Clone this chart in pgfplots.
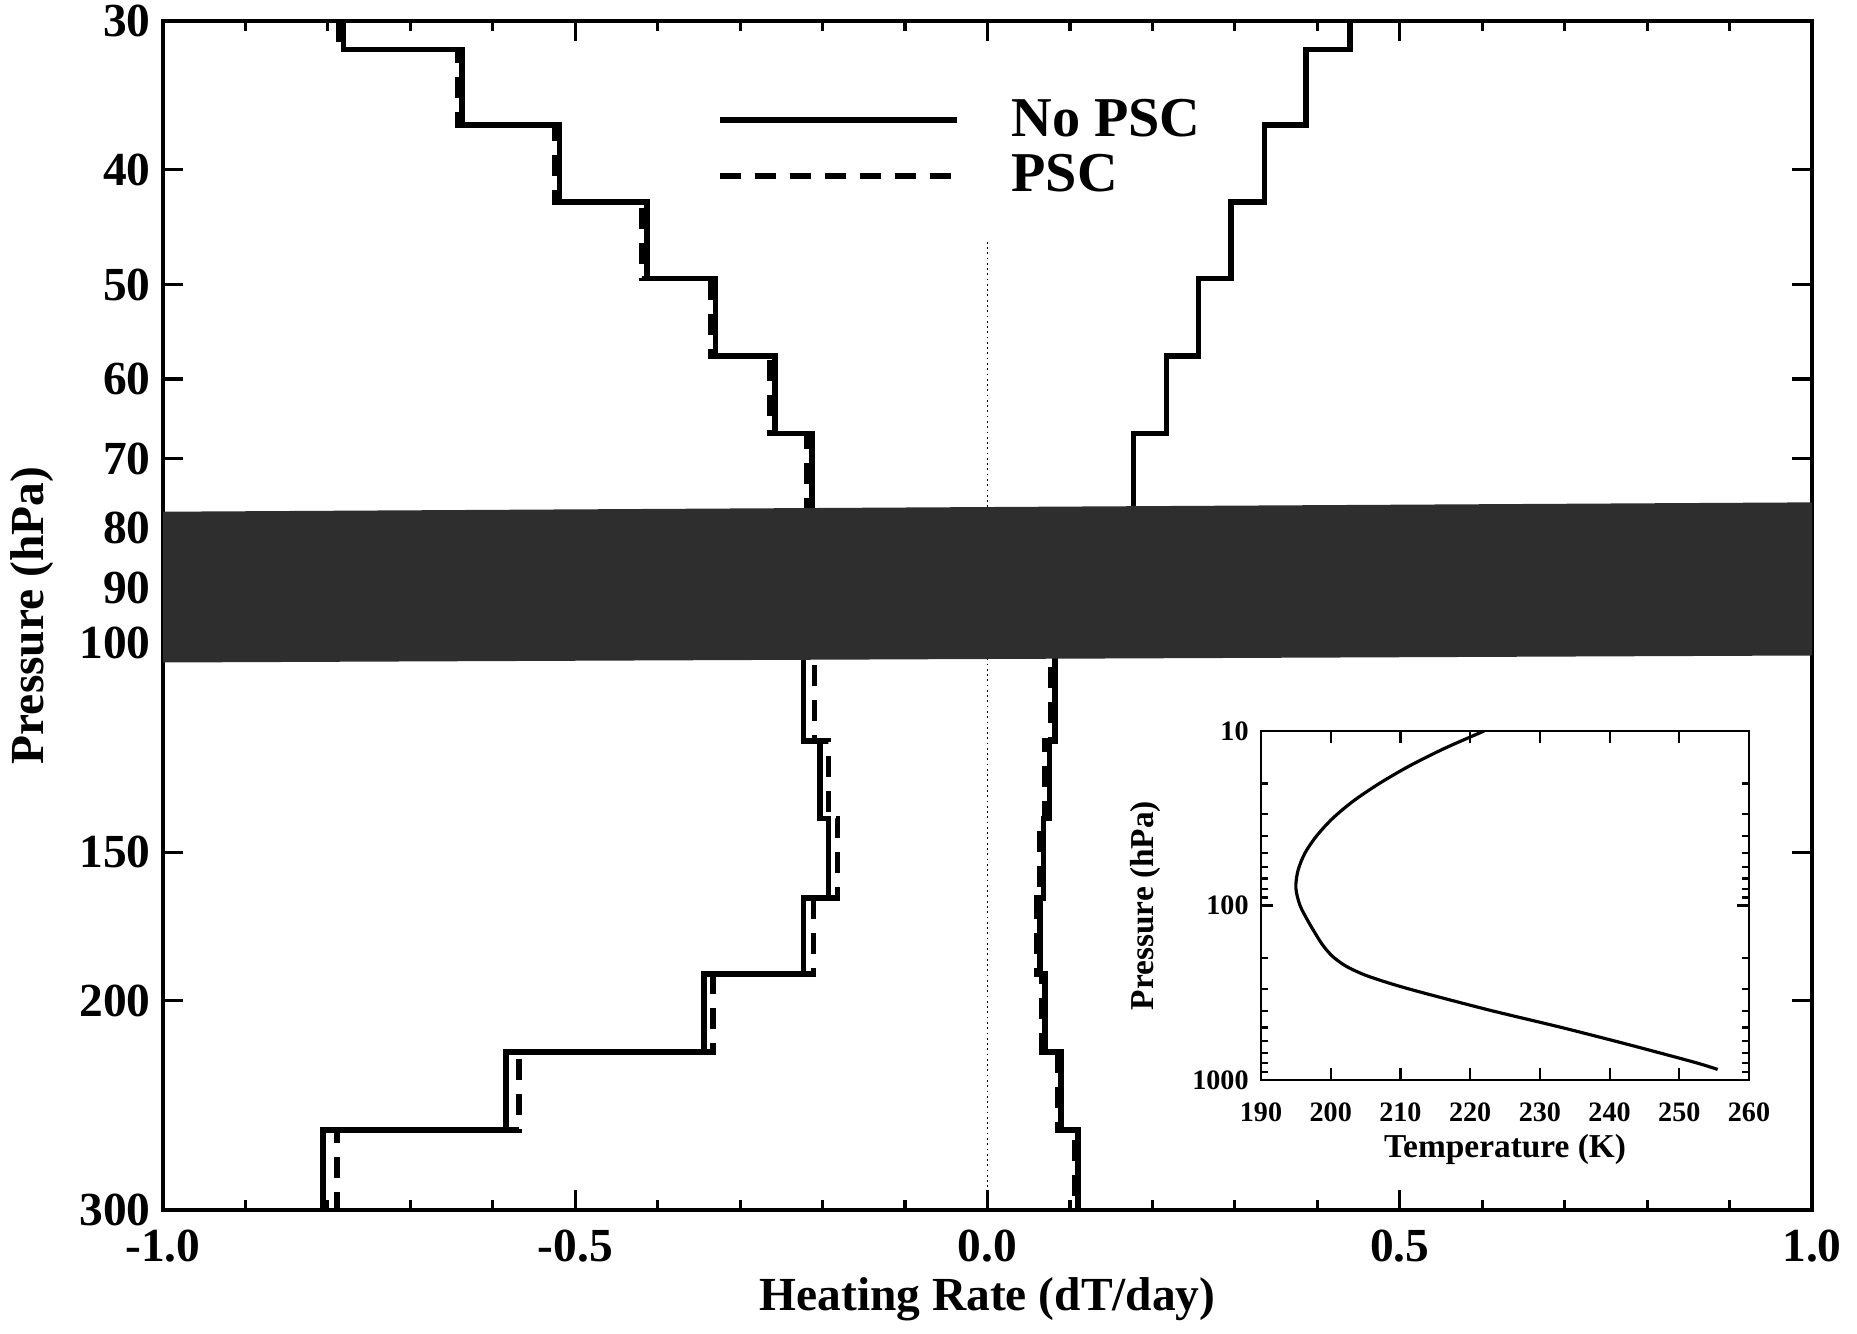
\documentclass[border=0pt]{standalone}
\usepackage{pgfplots}
\pgfplotsset{compat=1.18}
\usepackage{fontspec}
\setmainfont{Liberation Serif}
\begin{document}
\begin{tikzpicture}
\useasboundingbox (-16.3mm,-12.3mm) rectangle (169.4mm,121.0mm);
\begin{axis}[
  at={(0,0)}, anchor=south west,
  scale only axis, width=164.9mm, height=118.9mm,
  xmin=-1, xmax=1, ymin=30, ymax=300,
  ymode=log, y dir=reverse,
  xtick={-1,-0.5,0,0.5,1},
  xticklabels={-1.0,-0.5,0.0,0.5,1.0},
  minor x tick num=4,
  ytick={30,40,50,60,70,80,90,100,150,200,300},
  yticklabels={30,40,50,60,70,80,90,100,150,200,300},
  minor ytick={},
  tick align=inside,
  major tick length=2mm, minor tick length=1mm,
  axis line style={line width=1.2pt},
  tick style={line width=0.9pt, black},
  ticklabel style={font=\fontsize{13.5}{16}\selectfont\bfseries},
  xticklabel style={yshift=-0.7mm},
  xlabel={Heating Rate (dT/day)},
  ylabel={Pressure (hPa)},
  label style={font=\fontsize{13.5}{16}\selectfont\bfseries},
  xlabel style={at={(axis description cs:0.5,-0.0749)}, anchor=center},
  ylabel style={at={(axis description cs:-0.0794,0.5)}, anchor=center},
  legend style={draw=none, fill=none, inner sep=0pt,
    at={(axis description cs:0.3354,0.935)}, anchor=north west,
    font=\fontsize{16}{19}\selectfont\bfseries,
    nodes={inner sep=0pt},
    row sep=3.7pt,
    /tikz/every odd column/.append style={column sep=5.2mm}},
  legend cell align=left,
  legend image code/.code={\draw[#1] (0mm,0mm) -- (23.7mm,0mm);},
]
\addlegendimage{line width=1.6pt}
\addlegendentry{No PSC}
\addlegendimage{line width=1.6pt, dash pattern=on 2.1mm off 1.4mm}
\addlegendentry{PSC}

% zero line
\addplot[densely dotted, line width=0.5pt, forget plot] coordinates {(0,46) (0,300)};

% left curve, PSC (dashed)
\addplot[line width=1.6pt, dash pattern=on 2.1mm off 1.4mm, forget plot] coordinates {
(-0.787,30) (-0.787,31.7) (-0.643,31.7) (-0.643,36.7) (-0.525,36.7) (-0.525,42.6)
(-0.419,42.6) (-0.419,49.4) (-0.336,49.4) (-0.336,57.4) (-0.264,57.4) (-0.264,66.7)
(-0.219,66.7) (-0.219,77.4) (-0.215,77.4) (-0.215,89.8) (-0.210,89.8) (-0.210,104)
(-0.210,104) (-0.210,121) (-0.193,121) (-0.193,140.5) (-0.182,140.5) (-0.182,164)
(-0.211,164) (-0.211,190) (-0.333,190) (-0.333,221) (-0.568,221) (-0.568,257)
(-0.789,257) (-0.789,300)};
% left curve, No PSC (solid)
\addplot[line width=1.6pt, forget plot] coordinates {
(-0.781,30) (-0.781,31.7) (-0.637,31.7) (-0.637,36.7) (-0.519,36.7) (-0.519,42.6)
(-0.413,42.6) (-0.413,49.4) (-0.330,49.4) (-0.330,57.4) (-0.258,57.4) (-0.258,66.7)
(-0.213,66.7) (-0.213,77.4) (-0.218,77.4) (-0.218,89.8) (-0.223,89.8) (-0.223,104)
(-0.223,104) (-0.223,121) (-0.203,121) (-0.203,140.5) (-0.193,140.5) (-0.193,164)
(-0.223,164) (-0.223,190) (-0.344,190) (-0.344,221) (-0.584,221) (-0.584,257)
(-0.806,257) (-0.806,300)};
% right curve, PSC (dashed)
\addplot[line width=1.6pt, dash pattern=on 2.1mm off 1.4mm, forget plot] coordinates {
(0.440,30) (0.440,31.7) (0.386,31.7) (0.386,36.7) (0.336,36.7) (0.336,42.6)
(0.295,42.6) (0.295,49.4) (0.256,49.4) (0.256,57.4) (0.217,57.4) (0.217,66.7)
(0.177,66.7) (0.177,77.4) (0.120,77.4) (0.120,89.8) (0.077,89.8) (0.077,104)
(0.077,104) (0.077,121) (0.070,121) (0.070,140.5) (0.064,140.5) (0.064,164)
(0.060,164) (0.060,190) (0.066,190) (0.066,221) (0.085,221) (0.085,257)
(0.106,257) (0.106,300)};
% right curve, No PSC (solid)
\addplot[line width=1.6pt, forget plot] coordinates {
(0.440,30) (0.440,31.7) (0.386,31.7) (0.386,36.7) (0.336,36.7) (0.336,42.6)
(0.295,42.6) (0.295,49.4) (0.256,49.4) (0.256,57.4) (0.217,57.4) (0.217,66.7)
(0.177,66.7) (0.177,77.4) (0.120,77.4) (0.120,89.8) (0.082,89.8) (0.082,104)
(0.082,104) (0.082,121) (0.075,121) (0.075,140.5) (0.068,140.5) (0.068,164)
(0.064,164) (0.064,190) (0.070,190) (0.070,221) (0.089,221) (0.089,257)
(0.110,257) (0.110,300)};

% PSC band
\addplot[fill=black!82, draw=none, forget plot] coordinates {
(-1,77.6) (1,76.2) (1,102.5) (-1,103.9)} --cycle;
\end{axis}

\begin{axis}[
  at={(109.8mm,13.0mm)}, anchor=south west,
  scale only axis, width=48.8mm, height=34.9mm,
  axis background/.style={fill=white},
  xmin=190, xmax=260, ymin=10, ymax=1000,
  ymode=log, y dir=reverse,
  xtick={190,200,210,220,230,240,250,260},
  xticklabels={190,200,210,220,230,240,250,260},
  ytick={10,100,1000}, yticklabels={10,100,1000},
  minor ytick={20,30,40,50,60,70,80,90,200,300,400,500,600,700,800,900},
  tick align=inside, major tick length=1.2mm, minor tick length=0.7mm,
  axis line style={line width=0.8pt},
  tick style={line width=0.6pt, black},
  ticklabel style={font=\fontsize{8}{10}\selectfont\bfseries},
  xticklabel style={yshift=-1mm},
  xlabel={Temperature (K)}, ylabel={Pressure (hPa)},
  label style={font=\fontsize{9.5}{11}\selectfont\bfseries},
  xlabel style={at={(axis description cs:0.5,-0.198)}, anchor=center},
  ylabel style={at={(axis description cs:-0.236,0.5)}, anchor=center},
]
\addplot[smooth, line width=0.9pt] coordinates {
(222.0,10) (216.3,12.59) (211.3,15.85) (207.0,19.95) (203.3,25.1) (200.3,31.6)
(198.0,39.8) (196.3,50.1) (195.3,63.1) (195.0,79.4) (195.6,100) (196.9,125.9)
(198.4,158.5) (199.3,177.8) (200.5,199.5) (202.3,223.9) (205.0,251) (208.8,281.8)
(213.2,316) (222.8,398) (233.2,501) (243.0,631) (252.3,794) (255.5,870)};
\end{axis}
\end{tikzpicture}
\end{document}
